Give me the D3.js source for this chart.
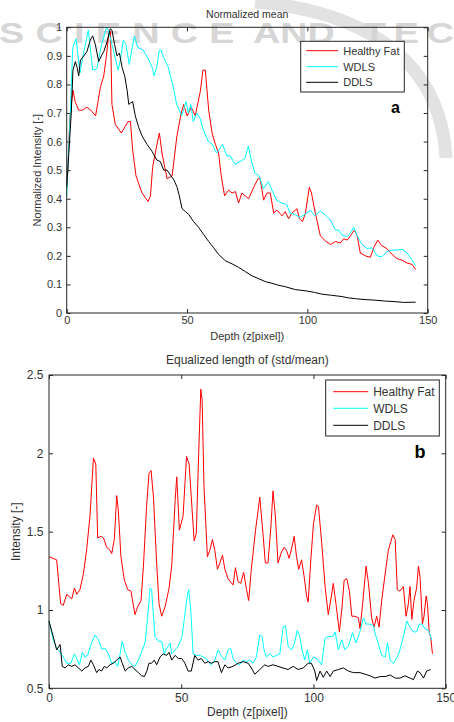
<!DOCTYPE html>
<html>
<head>
<meta charset="utf-8">
<script src="https://cdn.jsdelivr.net/npm/d3@7"></script>
<style>
  body { margin: 0; background: #fff; }
  svg { display: block; font-family: Arial, 'Liberation Sans', sans-serif; }
</style>
</head>
<body>
<div id="chart"></div>
<script>
// [depth, value] pairs

// panel a - normalized mean
const fatMean = [[0,0.45],[0.5,0.50],[1.3,0.68],[2.6,0.78],[3.5,0.74],[5,0.71],[6.5,0.71],[8.4,0.72],[10,0.71],[12,0.69],[14,0.79],[15.4,0.83],[16.5,0.90],[17.5,0.98],[18.2,0.985],[18.8,0.73],[20.2,0.66],[22.7,0.63],[25.5,0.67],[26.5,0.67],[27.4,0.57],[28.8,0.48],[31.3,0.42],[33.8,0.39],[34.8,0.41],[35.7,0.51],[37.5,0.59],[38.5,0.63],[39.6,0.56],[41.7,0.47],[43.8,0.48],[45.8,0.62],[47.6,0.70],[48.6,0.73],[50,0.69],[51.8,0.72],[53.4,0.69],[55.5,0.775],[56.6,0.85],[57.6,0.85],[59,0.71],[60.4,0.63],[61.8,0.59],[63.1,0.56],[64.2,0.48],[65.6,0.41],[67.3,0.43],[68.7,0.42],[70.1,0.425],[71.4,0.385],[72.8,0.42],[74.2,0.41],[75.6,0.40],[77.7,0.44],[79.5,0.47],[80.4,0.47],[81.8,0.395],[83.2,0.42],[84.6,0.42],[86,0.35],[87.4,0.36],[89.5,0.34],[90.8,0.355],[92.2,0.33],[93.6,0.35],[95.7,0.365],[96.7,0.33],[98,0.32],[99.2,0.35],[100.8,0.44],[101.7,0.42],[103.3,0.35],[105.4,0.27],[107.8,0.25],[109.6,0.24],[111.7,0.25],[113.7,0.245],[115.1,0.26],[116.5,0.255],[117.9,0.27],[119.5,0.29],[120.7,0.27],[122,0.21],[124.1,0.20],[126.2,0.195],[127.6,0.23],[129.3,0.255],[131,0.235],[133.1,0.225],[135.2,0.205],[137.3,0.19],[139.4,0.185],[141.4,0.175],[143.5,0.17],[145,0.152]]

const wdlsMean = [[0,0.41],[0.7,0.55],[1.5,0.70],[2.5,0.93],[3.9,0.96],[5.5,0.84],[7,0.91],[9,0.99],[10.8,0.85],[12.5,0.855],[14.5,0.94],[16.6,1.0],[17.3,0.99],[19.4,0.92],[21.4,0.85],[22.4,0.89],[23.5,0.955],[24.6,0.94],[26,0.87],[28.1,0.97],[29.5,0.93],[31.8,0.92],[33.9,0.89],[35.7,0.855],[36.3,0.83],[37.4,0.86],[38.5,0.92],[39.2,0.92],[40.5,0.89],[42.2,0.86],[44.3,0.79],[45.7,0.73],[47.8,0.69],[49.6,0.74],[50.5,0.70],[51.6,0.73],[52.6,0.67],[54,0.70],[55.5,0.68],[56.8,0.64],[58.9,0.60],[60.5,0.59],[62.3,0.56],[64.8,0.59],[66.5,0.55],[68,0.55],[69.9,0.52],[72,0.53],[74,0.54],[75.5,0.585],[76.8,0.53],[78.2,0.49],[80,0.48],[81.7,0.435],[83.8,0.46],[85.3,0.43],[87.2,0.395],[89.3,0.385],[91.4,0.38],[92.8,0.35],[94.8,0.345],[96.9,0.335],[99,0.345],[101.3,0.36],[103,0.34],[105.4,0.357],[107.5,0.343],[109.6,0.325],[111.7,0.29],[113,0.29],[114.4,0.273],[116.5,0.267],[117.9,0.28],[119.3,0.30],[120.7,0.27],[122.7,0.24],[124.8,0.226],[126.9,0.228],[129,0.20],[131,0.197],[133.1,0.215],[135.2,0.22],[137.3,0.22],[139.4,0.223],[141.4,0.21],[143.5,0.185],[144.9,0.165]]

const ddlsMean = [[0,0.44],[0.8,0.55],[1.9,0.70],[2.6,0.85],[3.6,0.88],[4.3,0.86],[5,0.83],[5.7,0.885],[7.1,0.90],[8.4,0.915],[9.8,0.955],[10.8,0.97],[11.9,0.94],[13.3,0.88],[14.4,0.90],[15.4,0.915],[16.8,0.95],[18.1,0.995],[18.8,0.99],[19.9,0.94],[20.9,0.90],[21.9,0.91],[23,0.86],[24.1,0.83],[25.1,0.78],[25.8,0.73],[26.5,0.735],[27.4,0.74],[28.5,0.69],[29.9,0.65],[31.3,0.62],[33.4,0.59],[35.5,0.565],[37.5,0.535],[38.9,0.53],[40.3,0.50],[41.7,0.50],[43.1,0.483],[44.5,0.466],[45.8,0.442],[46.8,0.41],[47.9,0.366],[49.3,0.355],[50.7,0.345],[52.7,0.32],[54.8,0.30],[56.9,0.275],[59,0.25],[61.1,0.228],[63.1,0.205],[65.9,0.183],[68.7,0.172],[71.4,0.16],[74.2,0.145],[77,0.13],[79.8,0.12],[82.5,0.11],[85.3,0.104],[88.1,0.097],[90.8,0.092],[95,0.082],[99.8,0.077],[103,0.072],[106,0.066],[110,0.062],[114,0.058],[117,0.053],[120,0.05],[124,0.047],[128,0.045],[132,0.042],[136,0.04],[140,0.037],[145,0.038]]

// panel b - equalized length of (std/mean)
const fatStd = [[0,1.34],[2.9,1.32],[4.4,1.04],[5.4,1.03],[6.7,1.10],[8.6,1.07],[9.6,1.14],[10.5,1.10],[11.7,1.13],[13,1.23],[14.2,1.38],[15.5,1.60],[16.8,1.97],[17.7,1.93],[18.4,1.46],[19.7,1.47],[20.6,1.46],[21.8,1.40],[23.1,1.38],[23.7,1.36],[24.7,1.45],[25.6,1.73],[26.2,1.64],[27.2,1.34],[28.5,1.19],[29.8,1.13],[31,1.12],[32.5,0.97],[33.5,1.02],[34.8,1.06],[35.7,1.28],[36.9,1.66],[37.8,1.87],[38.6,1.89],[39.5,1.72],[40.7,1.30],[41.6,1.04],[42.6,0.96],[43.9,1.02],[45.4,1.14],[46.4,1.28],[47.7,1.70],[48.3,1.85],[49.3,1.51],[50.7,1.60],[52,1.98],[53,1.93],[53.8,1.72],[54.9,1.44],[55.7,1.49],[56.6,2.0],[57.4,2.41],[57.9,2.34],[58.6,1.79],[59.9,1.34],[60.8,1.38],[61.8,1.45],[62.7,1.38],[63.7,1.26],[64.6,1.30],[65.6,1.35],[66.5,1.26],[67.7,1.20],[68.6,1.18],[69.6,1.16],[70.5,1.27],[71.5,1.18],[72.5,1.17],[73.6,1.24],[74.7,1.13],[75.5,1.06],[76.5,1.26],[78.1,1.51],[79.7,1.72],[81,1.47],[81.8,1.30],[82.8,1.30],[83.9,1.53],[84.7,1.76],[85.6,1.60],[86.6,1.30],[87.9,1.37],[88.9,1.40],[89.8,1.38],[90.8,1.33],[91.7,1.39],[92.7,1.47],[93.6,1.34],[94.4,1.26],[95.5,1.32],[96.5,1.21],[97.4,1.09],[98,1.05],[99,1.32],[100,1.55],[101.2,1.67],[101.9,1.66],[103.1,1.43],[104.4,1.15],[105.6,0.97],[106.5,1.06],[107.5,1.17],[108.5,1.04],[109.8,0.86],[110.7,1.00],[111.6,1.19],[112.6,1.20],[113.6,1.12],[114.5,0.96],[115.7,0.96],[117,0.95],[117.6,0.88],[118.6,1.04],[119.9,1.28],[120.8,1.17],[122,0.95],[122.9,0.89],[123.9,0.96],[124.8,0.89],[125.8,1.06],[127.1,1.23],[128.3,1.38],[130,1.48],[130.9,1.45],[131.7,1.13],[132.7,1.12],[134,1.15],[135,0.96],[135.9,1.04],[136.5,1.15],[137.2,0.94],[138,1.06],[139,1.14],[139.7,1.28],[140.3,1.21],[141.2,0.91],[141.8,0.96],[142.6,1.09],[143.1,1.04],[143.8,0.85],[144.3,0.83],[145,0.72]]

const wdlsStd = [[0,0.93],[1.6,0.81],[2.9,0.755],[4.2,0.73],[5.4,0.70],[6.7,0.66],[8.3,0.66],[9.6,0.72],[10.5,0.69],[11.5,0.65],[12.6,0.73],[13.6,0.70],[14.6,0.71],[16.1,0.79],[17.4,0.84],[18.7,0.81],[19.9,0.75],[21.2,0.755],[22.4,0.72],[23.7,0.66],[24.9,0.67],[26,0.64],[26.9,0.72],[27.7,0.80],[28.8,0.73],[30,0.68],[31.3,0.65],[32.5,0.64],[33.8,0.68],[35,0.73],[36.3,0.79],[37.3,0.95],[38.2,1.14],[38.8,1.13],[39.5,0.96],[40.1,0.83],[41.4,0.80],[42.6,0.80],[43.6,0.72],[44.5,0.755],[45.8,0.79],[46.4,0.72],[47.7,0.745],[48.9,0.77],[50.3,0.83],[51.3,0.96],[52.3,1.09],[52.8,1.13],[53.6,1.0],[54.5,0.72],[55.7,0.71],[57,0.71],[58.3,0.70],[59.5,0.69],[60.2,0.67],[61.4,0.65],[62.7,0.68],[63.9,0.745],[65,0.71],[66.5,0.68],[67.7,0.745],[68.7,0.755],[69.6,0.69],[70.9,0.66],[72.1,0.65],[73.4,0.68],[74.7,0.67],[75.9,0.68],[77.2,0.66],[78.4,0.70],[79.7,0.84],[80.6,0.83],[81.3,0.745],[82.2,0.70],[83.5,0.72],[84.7,0.70],[86,0.71],[87.3,0.72],[88.5,0.89],[89.4,0.90],[90.4,0.77],[91.7,0.745],[92.7,0.78],[93.9,0.87],[94.8,0.83],[95.7,0.745],[96.7,0.68],[97.7,0.745],[98.6,0.66],[100,0.70],[101.2,0.69],[103.1,0.65],[104.4,0.82],[105.6,0.83],[107.3,0.83],[108.2,0.86],[109.4,0.745],[110.7,0.81],[111.9,0.745],[113.2,0.77],[114.8,0.855],[116.1,0.79],[117.4,0.85],[118.9,0.95],[119.9,0.91],[121.1,0.91],[122.7,0.90],[123.3,0.85],[124.6,0.78],[125.8,0.71],[127.1,0.70],[128,0.79],[129,0.68],[130.2,0.66],[131.7,0.70],[132.7,0.745],[134,0.83],[135.3,0.93],[136.5,0.89],[137.8,0.86],[139,0.86],[140,0.91],[140.9,0.91],[142.2,0.88],[143.5,0.87],[144.7,0.81]]

const ddlsStd = [[0,0.93],[1.6,0.83],[2.9,0.745],[4.2,0.78],[5,0.64],[6.1,0.63],[7.3,0.65],[8.6,0.64],[9.8,0.65],[11.1,0.63],[12.4,0.61],[13.6,0.63],[14.9,0.64],[15.8,0.68],[16.8,0.65],[18,0.60],[18.9,0.62],[19.9,0.61],[20.9,0.64],[21.8,0.63],[23.1,0.65],[24.3,0.66],[25.6,0.68],[26.9,0.70],[27.7,0.66],[28.8,0.61],[30,0.63],[31.3,0.64],[32.5,0.62],[33.8,0.60],[35,0.58],[36.1,0.575],[37,0.61],[37.8,0.66],[38.8,0.66],[39.8,0.68],[40.7,0.65],[42,0.70],[43.2,0.72],[44.5,0.71],[45.4,0.73],[46.4,0.68],[47.7,0.71],[48.9,0.69],[50.2,0.69],[51.4,0.66],[52.6,0.61],[53.8,0.61],[55.1,0.71],[56.4,0.68],[57.6,0.69],[58.9,0.66],[60.2,0.67],[61.4,0.66],[62.7,0.67],[63.9,0.67],[65.2,0.60],[66.5,0.65],[67.7,0.63],[69.6,0.64],[71.5,0.66],[73.4,0.67],[75.3,0.66],[76.5,0.63],[77.8,0.59],[79.7,0.62],[81.6,0.65],[82.8,0.64],[84.7,0.65],[86.6,0.64],[88.5,0.63],[90.4,0.62],[92.3,0.64],[94.2,0.62],[96.1,0.63],[98,0.66],[99.2,0.66],[100.5,0.61],[101.2,0.55],[102.5,0.61],[103.7,0.57],[105,0.61],[106.3,0.575],[107.5,0.61],[109.4,0.62],[111.3,0.63],[113.2,0.61],[115.1,0.60],[117.6,0.60],[119.5,0.59],[121.4,0.58],[123.3,0.565],[125.2,0.575],[127.1,0.575],[129,0.585],[130.9,0.565],[132.7,0.565],[134.6,0.58],[136.5,0.565],[137.8,0.555],[139.3,0.61],[140.3,0.60],[141.6,0.565],[142.8,0.61],[144.3,0.62]]

const seriesNames = ['Healthy Fat', 'WDLS', 'DDLS']
const seriesColors = ['#ff0000', '#00ffff', '#000000']

const xTicks = [0, 50, 100, 150]
const yTicksA = [0, 0.1, 0.2, 0.3, 0.4, 0.5, 0.6, 0.7, 0.8, 0.9, 1]
const yTicksB = [0.5, 1, 1.5, 2, 2.5]

const width = 454
const height = 722

const svg = d3
  .select('#chart')
  .append('svg')
  .attr('width', width)
  .attr('height', height)
  .style('background', 'white')

// faint publisher watermark behind everything
const wm = svg.append('g')
wm.append('path')
  .attr('d', 'M255,2 C350,10 440,50 446,158')
  .attr('fill', 'none')
  .attr('stroke', '#e2e2e2')
  .attr('stroke-width', 13)
// stretched wide letters: word, x, letter spacing
const wmWords = [['SCIENCE', -1, 8.7], ['AND', 253, 0], ['TEC', 363, 6]]
wmWords.forEach(w => {
  wm.append('text')
    .attr('transform', 'translate(' + w[1] + ',43) scale(1.3,1)')
    .style('font-size', '29px')
    .style('font-weight', 'bold')
    .style('letter-spacing', w[2] + 'px')
    .style('fill', '#d6d6d6')
    .text(w[0])
})

function drawPanel(p) {
  const x = d3.scaleLinear().domain([0, 150]).range([p.left, p.right])
  const y = d3.scaleLinear().domain(p.yDomain).range([p.bottom, p.top])
  const g = svg.append('g').attr('font-size', p.fontSize).attr('fill', '#333')

  const fmt = d3.format('~g')

  const styleAxis = sel => {
    sel.select('.domain').remove()
    sel.selectAll('line').attr('stroke', '#262626')
    sel.selectAll('text').attr('fill', '#333').attr('font-family', 'Arial, Liberation Sans, sans-serif').attr('font-size', p.fontSize)
  }

  g.append('g')
    .attr('transform', 'translate(0,' + p.bottom + ')')
    .call(d3.axisBottom(x).tickValues(xTicks).tickSize(-4).tickPadding(p.xPad).tickFormat(fmt))
    .call(styleAxis)
  g.append('g')
    .attr('transform', 'translate(0,' + p.top + ')')
    .call(d3.axisTop(x).tickValues(xTicks).tickSize(-4).tickFormat(''))
    .call(styleAxis)
  g.append('g')
    .attr('transform', 'translate(' + p.left + ',0)')
    .call(d3.axisLeft(y).tickValues(p.yTicks).tickSize(-4).tickPadding(p.yPad).tickFormat(fmt))
    .call(styleAxis)
  g.append('g')
    .attr('transform', 'translate(' + p.right + ',0)')
    .call(d3.axisRight(y).tickValues(p.yTicks).tickSize(-4).tickFormat(''))
    .call(styleAxis)

  const line = d3.line().x(d => x(d[0])).y(d => y(d[1]))

  g.selectAll('.series')
    .data(p.series)
    .enter()
    .append('path')
    .attr('d', line)
    .attr('fill', 'none')
    .attr('stroke', (d, i) => seriesColors[i])
    .attr('stroke-width', 1)

  g.append('rect')
    .attr('x', p.left)
    .attr('y', p.top)
    .attr('width', p.right - p.left)
    .attr('height', p.bottom - p.top)
    .attr('fill', 'none')
    .attr('stroke', '#262626')

  // titles
  g.append('text')
    .attr('x', (p.left + p.right) / 2)
    .attr('y', p.titleY)
    .attr('text-anchor', 'middle')
    .attr('font-size', p.titleSize)
    .text(p.title)
  g.append('text')
    .attr('x', (p.left + p.right) / 2)
    .attr('y', p.xLabelY)
    .attr('text-anchor', 'middle')
    .text('Depth (z[pixel])')
  g.append('text')
    .attr('transform', 'translate(' + p.yLabelX + ',' + (p.top + p.bottom) / 2 + ') rotate(-90)')
    .attr('text-anchor', 'middle')
    .text(p.yLabel)

  // legend
  const lg = p.legend
  g.append('rect')
    .attr('x', lg.x)
    .attr('y', lg.y)
    .attr('width', lg.w)
    .attr('height', lg.h)
    .attr('fill', 'white')
    .attr('stroke', '#262626')
  seriesNames.forEach((name, i) => {
    const ry = lg.y + lg.rows[i]
    g.append('line')
      .attr('x1', lg.x + lg.line[0])
      .attr('x2', lg.x + lg.line[1])
      .attr('y1', ry)
      .attr('y2', ry)
      .attr('stroke', seriesColors[i])
    g.append('text')
      .attr('x', lg.x + lg.textX)
      .attr('y', ry)
      .attr('dy', '0.35em')
      .text(name)
  })

  g.append('text')
    .attr('x', p.tag.x)
    .attr('y', p.tag.y)
    .attr('font-weight', 'bold')
    .attr('font-size', p.tag.size)
    .attr('fill', '#000')
    .text(p.tag.text)
}

drawPanel({
  left: 66.7, right: 427.7, top: 27.3, bottom: 313,
  yDomain: [0, 1], yTicks: yTicksA,
  fontSize: 11, titleSize: 10.5,
  xPad: 3.5, yPad: 4.5,
  title: 'Normalized mean', titleY: 18,
  xLabelY: 340,
  yLabel: 'Normalized Intensity [-]', yLabelX: 41,
  series: [fatMean, wdlsMean, ddlsMean],
  legend: { x: 300.7, y: 41.3, w: 103.6, h: 50.7, rows: [9.4, 25.4, 41], line: [5.5, 37.5], textX: 42.5 },
  tag: { text: 'a', x: 391, y: 113, size: 16 }
})

drawPanel({
  left: 49, right: 445.7, top: 375, bottom: 688.3,
  yDomain: [0.5, 2.5], yTicks: yTicksB,
  fontSize: 12, titleSize: 12,
  xPad: 5.5, yPad: 5.5,
  title: 'Equalized length of (std/mean)', titleY: 364,
  xLabelY: 716,
  yLabel: 'Intensity [-]', yLabelX: 20,
  series: [fatStd, wdlsStd, ddlsStd],
  legend: { x: 325.7, y: 380, w: 113.6, h: 56, rows: [11.7, 28.3, 45.3], line: [7.5, 42.5], textX: 47.5 },
  tag: { text: 'b', x: 414.5, y: 458, size: 18 }
})
</script>
</body>
</html>
